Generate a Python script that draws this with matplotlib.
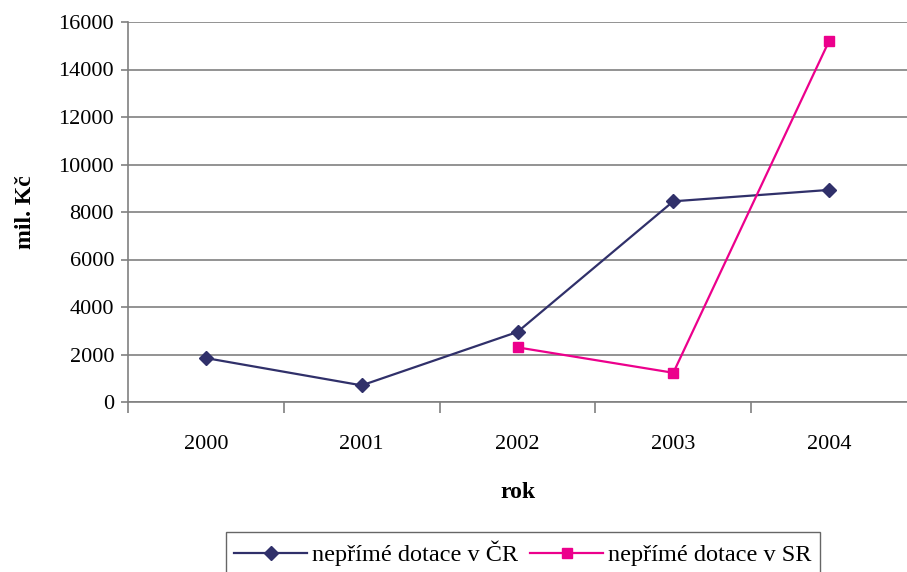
import numpy as np
import matplotlib.pyplot as plt
from matplotlib.ticker import FixedLocator

# data
years = ['2000', '2001', '2002', '2003', '2004']
cr_values = [1850, 700, 2950, 8450, 8930]
sr_years = ['2002', '2003', '2004']
sr_values = [2300, 1230, 15200]

plt.rcParams['font.family'] = ['Liberation Serif', 'DejaVu Serif']

fig = plt.figure(figsize=(9.07, 5.72), dpi=100)
ax = fig.add_axes([128/907, 1 - 402/572, 1 - 128/907, 380/572])

x = np.arange(len(years))
x_sr = [years.index(y) for y in sr_years]

ax.plot(x, cr_values, color='#30306A', lw=1.6, marker='D', ms=7,
        label='nepřímé dotace v ČR', zorder=3)
ax.plot(x_sr, sr_values, color='#EC008C', lw=1.6, marker='s', ms=7,
        label='nepřímé dotace v SR', zorder=3)

ax.set_xlim(-0.5, len(years) - 0.5)
ax.set_ylim(0, 16000)
ax.set_yticks(np.arange(0, 16001, 2000))
ax.yaxis.grid(True, color='#808080', lw=1.2)
ax.set_axisbelow(True)

ax.xaxis.set_major_locator(FixedLocator(np.arange(-0.5, len(years) - 1, 1)))
ax.xaxis.set_minor_locator(FixedLocator(x))
ax.set_xticklabels([], minor=False)
ax.set_xticklabels(years, minor=True)
ax.tick_params(axis='x', which='major', length=8, color='#808080', width=1.2)
ax.tick_params(axis='x', which='minor', length=0, pad=24, labelsize=16)
ax.tick_params(axis='y', length=5, color='#808080', width=1.2, labelsize=16, pad=5)

for s in ['top', 'right']:
    ax.spines[s].set_visible(False)
for s in ['left', 'bottom']:
    ax.spines[s].set_color('#808080')
    ax.spines[s].set_linewidth(1.2)

ax.set_ylabel('mil. Kč', fontsize=17, fontweight='bold', labelpad=16)
ax.set_xlabel('rok', fontsize=17, fontweight='bold', labelpad=20)

fig.legend(loc='upper center', bbox_to_anchor=(523/907, 1 - 532/572), ncol=2,
           fontsize=17.5, frameon=True, fancybox=False, edgecolor='#404040',
           handlelength=3, columnspacing=0.5, handletextpad=0.2,
           borderpad=0.35, borderaxespad=0)

fig.savefig('out.png', dpi=100)
